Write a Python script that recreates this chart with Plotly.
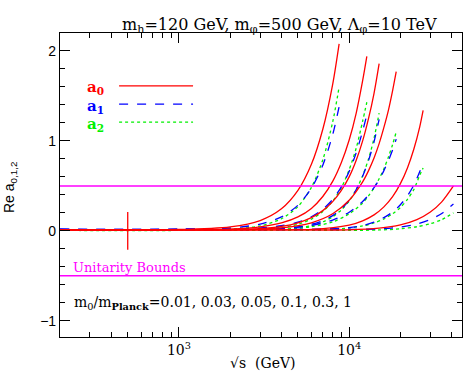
import plotly.graph_objects as go

# energies (GeV) and amplitudes, one set per m0/mPlanck curve
ratios = ['0.01', '0.03', '0.05', '0.1', '0.3', '1']

e_1 = [200, 1000, 2000, 3000, 4000, 5000, 6000, 7000, 8000, 8730]
a0_1 = [0.01, 0.015, 0.045, 0.115, 0.245, 0.45, 0.74, 1.13, 1.63, 2.08]
a1_1 = [0.015, 0.017, 0.033, 0.075, 0.155, 0.285, 0.475, 0.73, 1.07, 1.38]
a2_1 = [0.005, 0.005, 0.018, 0.055, 0.135, 0.27, 0.484, 0.79, 1.21, 1.60]

e_2 = [200, 1000, 2000, 3000, 4000, 5000, 6000, 7000, 8000, 9000, 10000, 11000, 12000, 12700]
a0_2 = [0.01, 0.01, 0.02, 0.045, 0.088, 0.155, 0.25, 0.382, 0.55, 0.76, 1.01, 1.31, 1.67, 1.94]
a1_2 = [0.015, 0.015, 0.02, 0.032, 0.057, 0.097, 0.157, 0.24, 0.35, 0.49, 0.66, 0.87, 1.11, 1.29]
a2_2 = [0.005, 0.005, 0.008, 0.016, 0.037, 0.074, 0.13, 0.216, 0.33, 0.48, 0.68, 0.92, 1.22, 1.43]

e_3 = [200, 1000, 2000, 3000, 4000, 5000, 6000, 7000, 8000, 9000, 10000, 11000, 12000, 13000, 14000, 15000]
a0_3 = [0.01, 0.01, 0.015, 0.025, 0.05, 0.09, 0.147, 0.225, 0.325, 0.45, 0.60, 0.785, 1.0, 1.25, 1.53, 1.86]
a1_3 = [0.015, 0.015, 0.017, 0.02, 0.03, 0.045, 0.073, 0.113, 0.17, 0.245, 0.34, 0.46, 0.607, 0.783, 0.99, 1.24]
a2_3 = [0.005, 0.005, 0.006, 0.008, 0.016, 0.033, 0.059, 0.10, 0.157, 0.233, 0.332, 0.458, 0.614, 0.80, 1.03, 1.31]

e_4 = [200, 1000, 2000, 4000, 6000, 8000, 10000, 12000, 13000, 14000, 15000, 16000, 17000, 18000, 18900]
a0_4 = [0.01, 0.01, 0.012, 0.033, 0.09, 0.19, 0.34, 0.545, 0.67, 0.81, 0.97, 1.15, 1.34, 1.56, 1.77]
a1_4 = [0.015, 0.015, 0.016, 0.025, 0.06, 0.12, 0.207, 0.327, 0.40, 0.48, 0.57, 0.67, 0.78, 0.90, 1.02]
a2_4 = [0.005, 0.005, 0.006, 0.016, 0.046, 0.10, 0.19, 0.31, 0.39, 0.48, 0.58, 0.69, 0.82, 0.96, 1.10]

e_5 = [200, 1000, 3000, 6000, 10000, 12000, 14000, 16000, 18000, 20000, 22000, 24000, 26000, 27200]
a0_5 = [0.01, 0.01, 0.01, 0.016, 0.064, 0.112, 0.178, 0.267, 0.38, 0.525, 0.70, 0.91, 1.16, 1.34]
a1_5 = [0.015, 0.015, 0.015, 0.017, 0.036, 0.06, 0.097, 0.147, 0.21, 0.29, 0.39, 0.51, 0.66, 0.76]
a2_5 = [0.005, 0.005, 0.005, 0.008, 0.032, 0.055, 0.088, 0.132, 0.19, 0.26, 0.35, 0.46, 0.62, 0.70]

e_6 = [200, 1000, 5000, 10000, 15000, 20000, 25000, 30000, 35000, 41000]
a0_6 = [0.01, 0.01, 0.01, 0.012, 0.03, 0.067, 0.126, 0.21, 0.323, 0.5]
a1_6 = [0.015, 0.015, 0.015, 0.016, 0.022, 0.042, 0.076, 0.126, 0.194, 0.30]
a2_6 = [0.005, 0.005, 0.005, 0.005, 0.01, 0.023, 0.046, 0.079, 0.125, 0.20]

# narrow resonance at m_phi = 500 GeV
res_e = [500, 500]
res_a0 = [-0.21, 0.21]

unitarity = [0.5, -0.5]

energies = [e_1, e_2, e_3, e_4, e_5, e_6]
a0_sets = [a0_1, a0_2, a0_3, a0_4, a0_5, a0_6]
a1_sets = [a1_1, a1_2, a1_3, a1_4, a1_5, a1_6]
a2_sets = [a2_1, a2_2, a2_3, a2_4, a2_5, a2_6]

RED = '#ff0000'
BLUE = '#0000ff'
GREEN = '#00f000'
MAGENTA = '#ff00ff'
SERIF = 'DejaVu Serif'
SANS = 'Liberation Sans'

fig = go.Figure()

# draw green, then blue, then red on top
for sets, col, dash in [(a2_sets, GREEN, 'dot'), (a1_sets, BLUE, 'dash'), (a0_sets, RED, 'solid')]:
    for e, a in zip(energies, sets):
        fig.add_trace(go.Scatter(
            x=e, y=a, mode='lines',
            line=dict(color=col, width=1.3, dash=dash, shape='spline', smoothing=0.8),
            showlegend=False, hoverinfo='skip'))

fig.add_trace(go.Scatter(x=res_e, y=res_a0, mode='lines',
                         line=dict(color=RED, width=1.3), showlegend=False))

for u in unitarity:
    fig.add_hline(y=u, line=dict(color=MAGENTA, width=1.5))

# hand drawn legend like the original
leg = [('a<sub>0</sub>', RED, 'solid', 0.826), ('a<sub>1</sub>', BLUE, 'dash', 0.766),
       ('a<sub>2</sub>', GREEN, 'dot', 0.707)]
for txt, col, dash, yy in leg:
    fig.add_shape(type='line', xref='paper', yref='paper', x0=0.147, x1=0.331, y0=yy, y1=yy,
                  line=dict(color=col, width=1.3, dash=dash))
    fig.add_annotation(x=0.062, y=yy, xref='paper', yref='paper', text='<b>' + txt + '</b>',
                       showarrow=False, xanchor='left', yanchor='middle', yshift=-2,
                       font=dict(family=SERIF, size=15, color=col))

fig.add_annotation(x=0.545, y=1.066, xref='paper', yref='paper', showarrow=False,
                   text='m<sub>h</sub>=120 GeV, m<sub>φ</sub>=500 GeV, Λ<sub>φ</sub>=10 TeV',
                   font=dict(family=SERIF, size=16, color='black'))
fig.add_annotation(x=0.03, y=-0.5, xref='paper', yref='y', showarrow=False,
                   xanchor='left', yanchor='bottom', borderpad=0, yshift=0,
                   text='Unitarity Bounds', font=dict(family=SERIF, size=13, color=MAGENTA))
fig.add_annotation(x=0.03, y=-0.8, xref='paper', yref='y', showarrow=False,
                   xanchor='left', yanchor='middle',
                   text='m<sub>0</sub>/m<sub><b>Planck</b></sub>=' + ', '.join(ratios),
                   font=dict(family=SERIF, size=14, color='black'))
fig.add_annotation(x=-0.152, y=0.493, xref='paper', yref='paper', showarrow=False,
                   textangle=-90, text='Re a<sub>0,1,2</sub>',
                   font=dict(family=SANS, size=14, color='black'))
fig.add_annotation(x=0.505, y=-0.118, xref='paper', yref='paper', showarrow=False,
                   text='√s  (GeV)', font=dict(family=SERIF, size=14, color='black'))

fig.update_xaxes(
    type='log', range=[2.301, 4.663],
    tickvals=[1000, 10000], ticktext=['10<sup>3</sup>', '10<sup>4</sup>'],
    ticks='inside', ticklen=10, tickwidth=1.2, tickcolor='black',
    minor=dict(ticks='inside', ticklen=5, tickcolor='black', dtick='D1'),
    showline=True, linecolor='black', linewidth=1.2, mirror='ticks',
    showgrid=False, zeroline=False,
    tickfont=dict(family=SERIF, size=14, color='black'))
fig.update_yaxes(
    range=[-1.18, 2.2], tickvals=[-1, 0, 1, 2], ticktext=['−1', '0', '1', '2'],
    ticks='inside', ticklen=10, tickwidth=1.2, tickcolor='black',
    minor=dict(ticks='inside', ticklen=5, tickcolor='black', dtick=0.2),
    showline=True, linecolor='black', linewidth=1.2, mirror='ticks',
    showgrid=False, zeroline=False,
    tickfont=dict(family=SANS, size=14, color='black'))

fig.update_layout(
    width=471, height=382,
    margin=dict(l=60, r=9, t=33, b=45),
    plot_bgcolor='white', paper_bgcolor='white',
    showlegend=False)

# browser default body margin would shift the whole figure by 8px
fig.write_html('out.html', config={'displayModeBar': False},
               post_script="document.body.style.margin='0';")
